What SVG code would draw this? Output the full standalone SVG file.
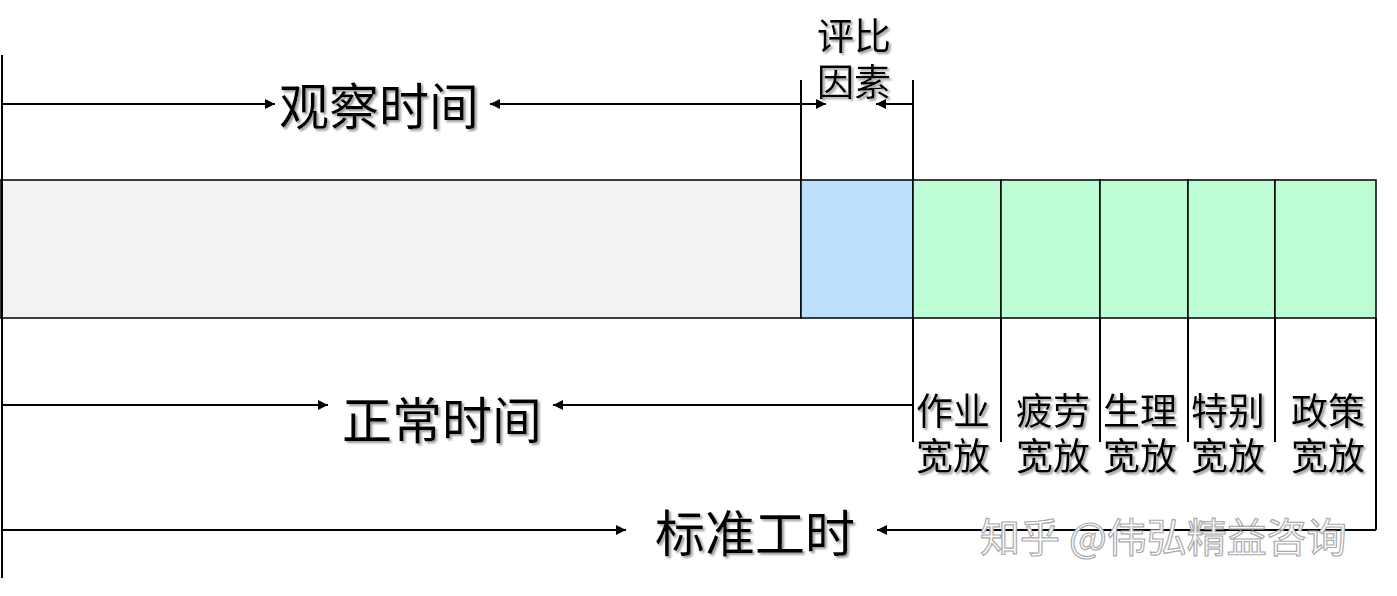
<svg xmlns="http://www.w3.org/2000/svg" width="1397" height="596" viewBox="0 0 1397 596">
<style>
.ln{stroke:#000;stroke-width:2;fill:none}
.bx{stroke:#000;stroke-width:1.5}
.t{font-family:"Liberation Sans","Noto Sans CJK SC",sans-serif;fill:#000;filter:url(#sh)}
.big{font-size:50px}
.sm{font-size:37px}
.wm{font-family:"Noto Sans CJK SC",sans-serif;font-size:40px;fill:#fff;stroke:#aaa;stroke-width:1.2}
</style>
<defs>
<marker id="ah" viewBox="0 0 10 10" refX="10" refY="5" markerWidth="5" markerHeight="5" orient="auto"><path d="M0,0L10,5L0,10z" fill="#000"/></marker>
<filter id="sh" x="-5%" y="-5%" width="115%" height="115%"><feDropShadow dx="2" dy="2" stdDeviation="1" flood-color="#999"/></filter>
</defs>
<g id="bar">
<rect id="observed" class="bx" x="0" y="180" width="801" height="138" fill="#f2f2f2"/>
<rect id="rating" class="bx" x="801" y="180" width="112" height="138" fill="#bde0fd"/>
<rect id="a1" class="bx" x="913" y="180" width="88" height="138" fill="#bdfdd6"/>
<rect id="a2" class="bx" x="1001" y="180" width="99" height="138" fill="#bdfdd6"/>
<rect id="a3" class="bx" x="1100" y="180" width="88" height="138" fill="#bdfdd6"/>
<rect id="a4" class="bx" x="1188" y="180" width="87" height="138" fill="#bdfdd6"/>
<rect id="a5" class="bx" x="1275" y="180" width="101" height="138" fill="#bdfdd6"/>
</g>
<g id="connectors">
<line class="ln" x1="2" y1="55" x2="2" y2="578"/>
<line class="ln" x1="801" y1="80" x2="801" y2="180"/>
<line class="ln" x1="913" y1="80" x2="913" y2="180"/>
<line class="ln" x1="913" y1="318" x2="913" y2="442"/>
<line class="ln" x1="1001" y1="318" x2="1001" y2="442"/>
<line class="ln" x1="1100" y1="318" x2="1100" y2="442"/>
<line class="ln" x1="1188" y1="318" x2="1188" y2="442"/>
<line class="ln" x1="1275" y1="318" x2="1275" y2="442"/>
<line class="ln" x1="1376" y1="318" x2="1376" y2="530"/>
<line class="ln" x1="2" y1="104" x2="275" y2="104" marker-end="url(#ah)"/>
<line class="ln" x1="801" y1="104" x2="490" y2="104" marker-end="url(#ah)"/>
<line class="ln" x1="801" y1="104" x2="826" y2="104" marker-end="url(#ah)"/>
<line class="ln" x1="913" y1="104" x2="876" y2="104" marker-end="url(#ah)"/>
<line class="ln" x1="2" y1="405" x2="328" y2="405" marker-end="url(#ah)"/>
<line class="ln" x1="913" y1="405" x2="553" y2="405" marker-end="url(#ah)"/>
<line class="ln" x1="2" y1="530" x2="626" y2="530" marker-end="url(#ah)"/>
<line class="ln" x1="1376" y1="530" x2="877" y2="530" marker-end="url(#ah)"/>
</g>
<g id="labels">
<text class="t big" x="279" y="125">观察时间</text>
<text class="t sm" x="817" y="50">评比</text>
<text class="t sm" x="817" y="96">因素</text>
<text class="t big" x="342" y="439">正常时间</text>
<text class="t big" x="655" y="552">标准工时</text>
<text class="t sm" x="916" y="425">作业</text>
<text class="t sm" x="916" y="470">宽放</text>
<text class="t sm" x="1016" y="425">疲劳</text>
<text class="t sm" x="1016" y="470">宽放</text>
<text class="t sm" x="1103" y="425">生理</text>
<text class="t sm" x="1103" y="470">宽放</text>
<text class="t sm" x="1191" y="425">特别</text>
<text class="t sm" x="1191" y="470">宽放</text>
<text class="t sm" x="1291" y="425">政策</text>
<text class="t sm" x="1291" y="470">宽放</text>
<text class="wm" x="980" y="552">知乎 @伟弘精益咨询</text>
</g>
</svg>
